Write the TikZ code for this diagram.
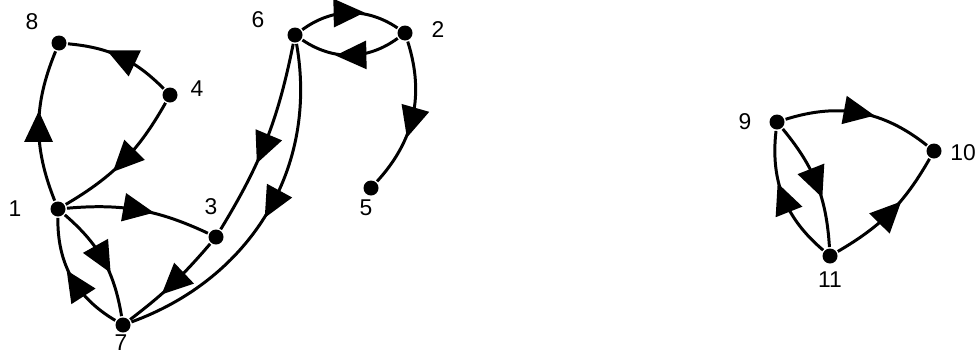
\documentclass[tikz,border=0pt]{standalone}
\usepackage{fontspec}
\setmainfont{Liberation Sans}
\usetikzlibrary{%
  arrows.meta,%
  decorations.markings,%
  positioning%
}

\begin{document}
\begin{tikzpicture}[
  font=\fontsize{13}{15}\selectfont, line width=1.7pt,
  dot/.style={circle, fill, inner sep=0pt, minimum size=0.3cm},
  midarrow/.style={postaction={decorate}, decoration={markings,
    mark=at position #1 with {\arrow[xshift=0.3cm]{Triangle[length=0.62cm,width=0.56cm]}}}},
  midarrow/.default=0.5
]
\useasboundingbox (0,0) rectangle (19.58,7.06);

% vertices
\foreach \n/\x/\y in {1/1.16/2.88, 2/8.10/6.40, 3/4.32/2.32, 4/3.40/5.16,
  5/7.42/3.30, 6/5.90/6.36, 7/2.46/0.56, 8/1.18/6.20,
  9/15.54/4.62, 10/18.68/4.04, 11/16.60/1.94} {
  \node[dot] (v\n) at (\x,\y) {};
}
\foreach \n/\x/\y in {1/0.30/2.88, 2/8.76/6.46, 3/4.22/2.92, 4/3.94/5.28,
  5/7.32/2.90, 6/5.16/6.66, 7/2.42/0.20, 8/0.64/6.62,
  9/14.90/4.62, 10/19.26/4.00, 11/16.60/1.46} {
  \node (t\n) at (\x,\y) {\n};
}

\draw[midarrow] (v1) to[bend left=22] (v8);
\draw[midarrow] (v4) to[bend right=20] (v8);
\draw[midarrow] (v4) to[bend left=15] (v1);
\draw[midarrow] (v1) to[bend left=15] (v3);
\draw[midarrow] (v1) to[bend left=20] (v7);
\draw[midarrow=0.45] (v7) to[bend left=30] (v1);
\draw[midarrow] (v3) to[bend left=6] (v7);
\draw[midarrow=0.55] (v6) to[bend left=10] (v3);
\draw[midarrow=0.47] (v6) to[out=-80,in=20] (v7);
\draw[midarrow] (v6) to[bend left=35] (v2);
\draw[midarrow] (v2) to[bend left=35] (v6);
\draw[midarrow=0.55] (v2) to[bend left=30] (v5);

\draw[midarrow] (v9) to[bend left=28] (v10);
\draw[midarrow] (v9) to[bend left=18] (v11);
\draw[midarrow] (v11) to[bend left=28] (v9);
\draw[midarrow] (v11) to[bend right=15] (v10);
\end{tikzpicture}
\end{document}
